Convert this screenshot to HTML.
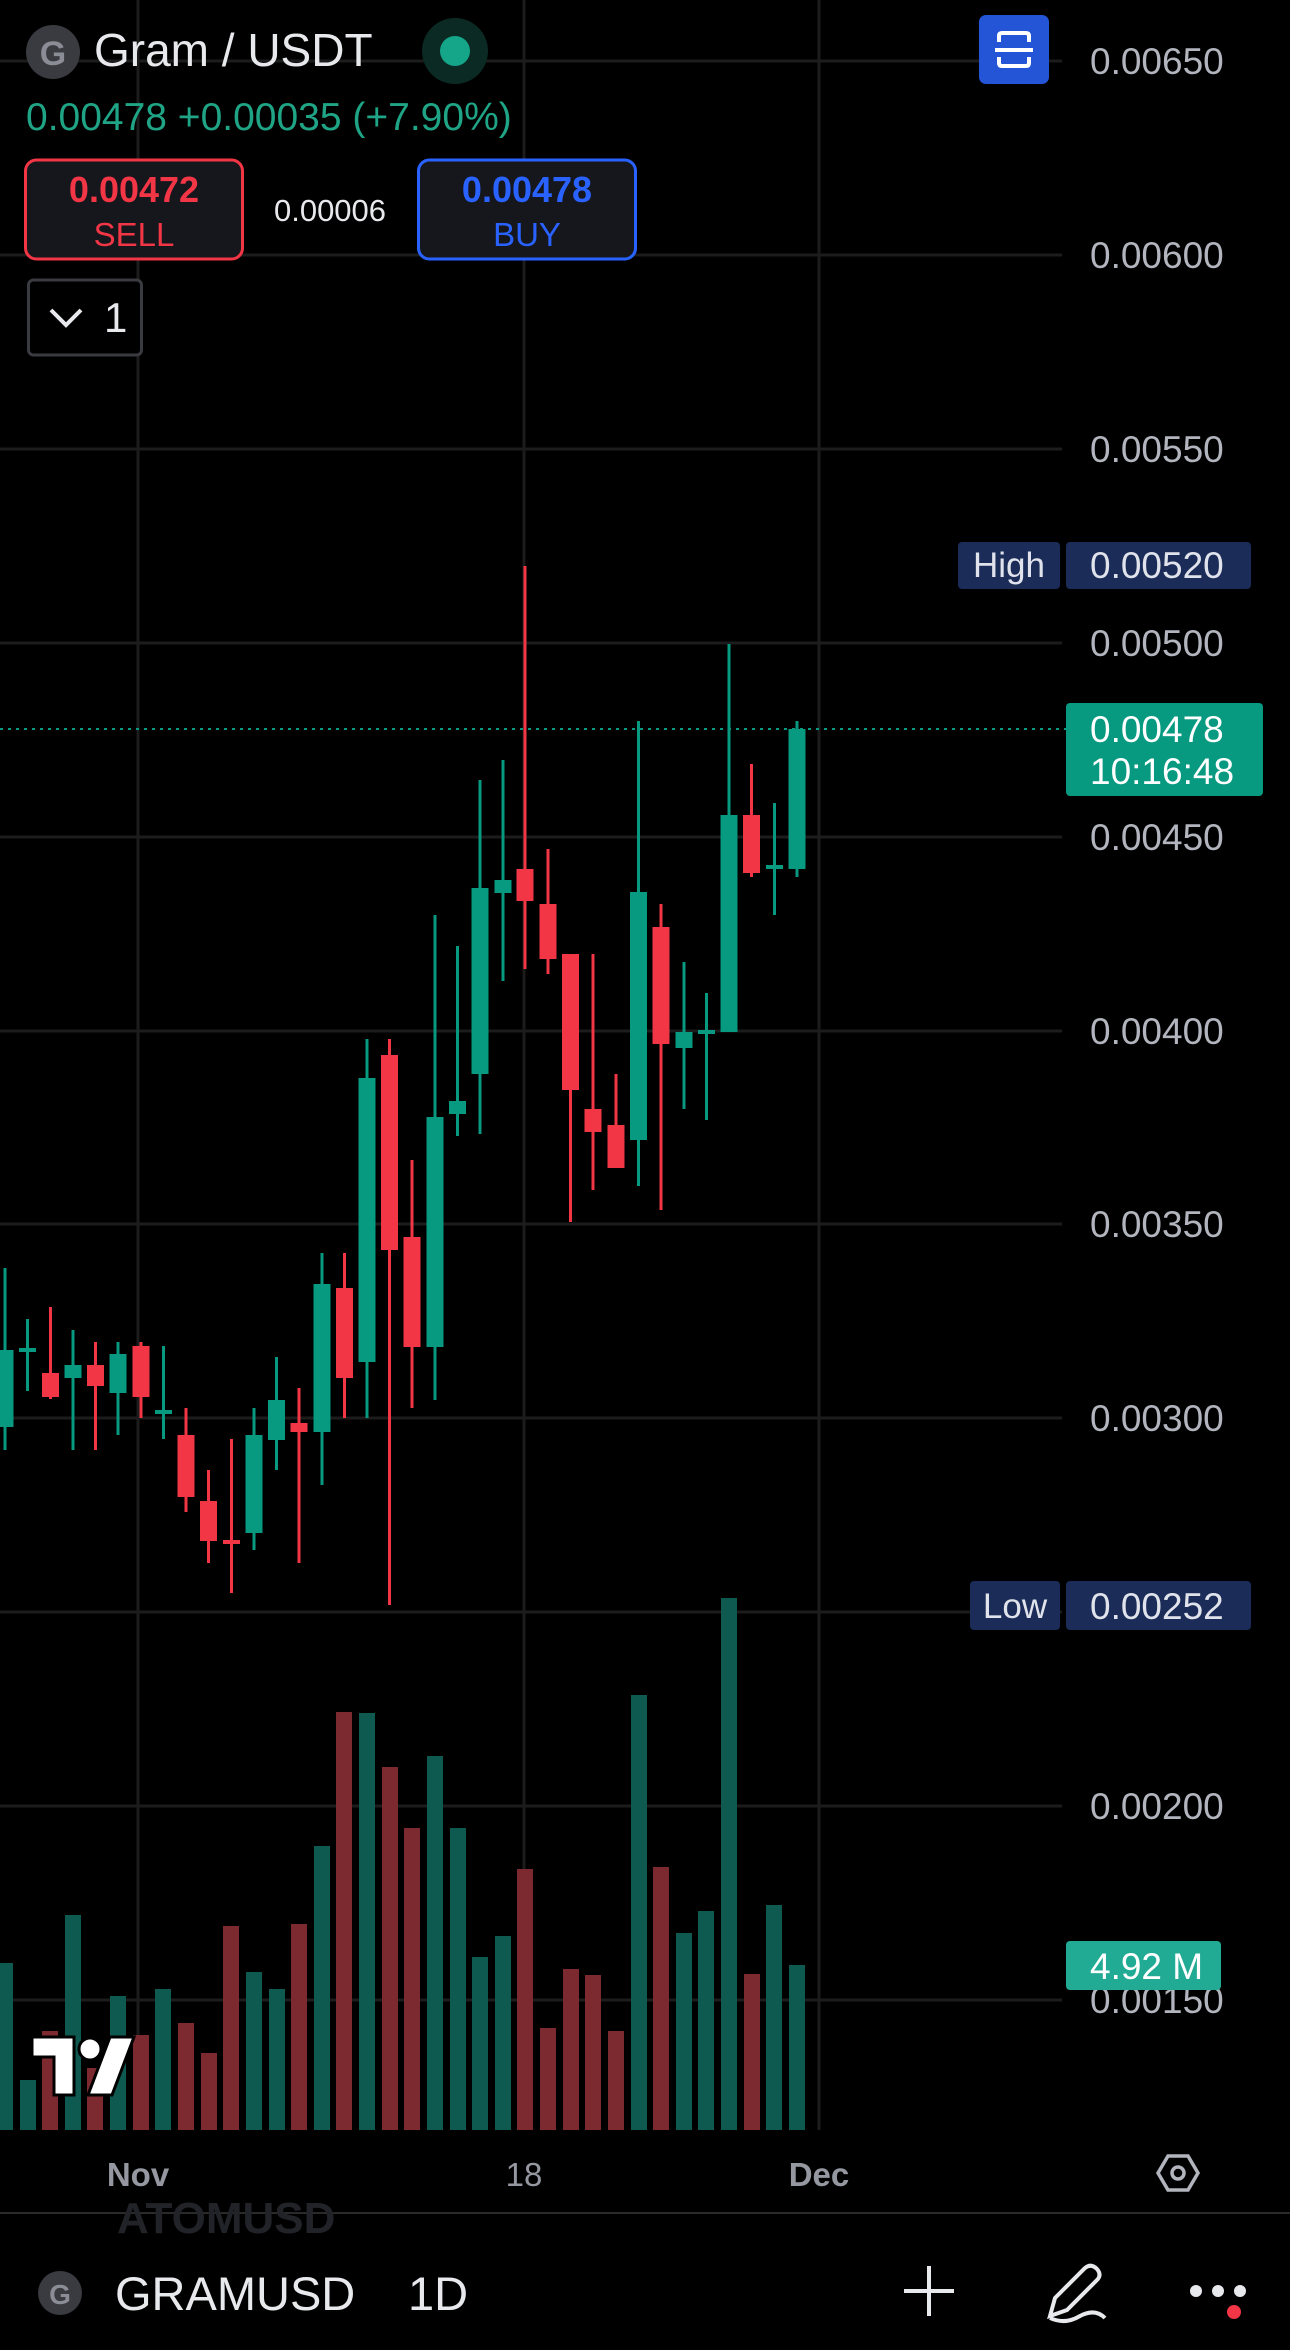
<!DOCTYPE html>
<html><head><meta charset="utf-8"><style>
html,body{margin:0;padding:0;background:#000;}
svg{display:block;}
text{font-family:"Liberation Sans",sans-serif;}
</style></head><body>
<svg width="1290" height="2350" viewBox="0 0 1290 2350" xmlns="http://www.w3.org/2000/svg">
<rect width="1290" height="2350" fill="#000"/>
<!-- grid -->
<g stroke="#1c1c1c" stroke-width="3">
<line x1="0" y1="61" x2="1062" y2="61"/><line x1="0" y1="255" x2="1062" y2="255"/><line x1="0" y1="449" x2="1062" y2="449"/><line x1="0" y1="643" x2="1062" y2="643"/><line x1="0" y1="837" x2="1062" y2="837"/><line x1="0" y1="1031" x2="1062" y2="1031"/><line x1="0" y1="1224" x2="1062" y2="1224"/><line x1="0" y1="1418" x2="1062" y2="1418"/><line x1="0" y1="1612" x2="1062" y2="1612"/><line x1="0" y1="1806" x2="1062" y2="1806"/><line x1="0" y1="2000" x2="1062" y2="2000"/>
<line x1="138" y1="0" x2="138" y2="2130"/><line x1="524" y1="0" x2="524" y2="2130"/><line x1="819" y1="0" x2="819" y2="2130"/>
</g>
<!-- volume -->
<g>
<rect x="-3" y="1963" width="16" height="167" fill="#0e5a50"/>
<rect x="20" y="2080" width="16" height="50" fill="#0e5a50"/>
<rect x="42" y="2031" width="16" height="99" fill="#7c2a2f"/>
<rect x="65" y="1915" width="16" height="215" fill="#0e5a50"/>
<rect x="87" y="2068" width="16" height="62" fill="#7c2a2f"/>
<rect x="110" y="1996" width="16" height="134" fill="#0e5a50"/>
<rect x="133" y="2035" width="16" height="95" fill="#7c2a2f"/>
<rect x="155" y="1989" width="16" height="141" fill="#0e5a50"/>
<rect x="178" y="2023" width="16" height="107" fill="#7c2a2f"/>
<rect x="201" y="2053" width="16" height="77" fill="#7c2a2f"/>
<rect x="223" y="1926" width="16" height="204" fill="#7c2a2f"/>
<rect x="246" y="1972" width="16" height="158" fill="#0e5a50"/>
<rect x="269" y="1989" width="16" height="141" fill="#0e5a50"/>
<rect x="291" y="1924" width="16" height="206" fill="#7c2a2f"/>
<rect x="314" y="1846" width="16" height="284" fill="#0e5a50"/>
<rect x="336" y="1712" width="16" height="418" fill="#7c2a2f"/>
<rect x="359" y="1713" width="16" height="417" fill="#0e5a50"/>
<rect x="382" y="1767" width="16" height="363" fill="#7c2a2f"/>
<rect x="404" y="1828" width="16" height="302" fill="#7c2a2f"/>
<rect x="427" y="1756" width="16" height="374" fill="#0e5a50"/>
<rect x="450" y="1828" width="16" height="302" fill="#0e5a50"/>
<rect x="472" y="1957" width="16" height="173" fill="#0e5a50"/>
<rect x="495" y="1936" width="16" height="194" fill="#0e5a50"/>
<rect x="517" y="1869" width="16" height="261" fill="#7c2a2f"/>
<rect x="540" y="2028" width="16" height="102" fill="#7c2a2f"/>
<rect x="563" y="1969" width="16" height="161" fill="#7c2a2f"/>
<rect x="585" y="1975" width="16" height="155" fill="#7c2a2f"/>
<rect x="608" y="2031" width="16" height="99" fill="#7c2a2f"/>
<rect x="631" y="1695" width="16" height="435" fill="#0e5a50"/>
<rect x="653" y="1867" width="16" height="263" fill="#7c2a2f"/>
<rect x="676" y="1933" width="16" height="197" fill="#0e5a50"/>
<rect x="698" y="1911" width="16" height="219" fill="#0e5a50"/>
<rect x="721" y="1598" width="16" height="532" fill="#0e5a50"/>
<rect x="744" y="1974" width="16" height="156" fill="#7c2a2f"/>
<rect x="766" y="1905" width="16" height="225" fill="#0e5a50"/>
<rect x="789" y="1965" width="16" height="165" fill="#0e5a50"/>
</g>
<!-- current price line -->
<line x1="0" y1="729" x2="1066" y2="729" stroke="#089981" stroke-width="2" stroke-dasharray="3,5"/>
<!-- candles -->
<g fill="#089981">
<rect x="3.5" y="1268" width="3" height="182"/><rect x="-3.5" y="1350" width="17" height="77"/>
<rect x="26" y="1319" width="3" height="72"/><rect x="19" y="1348" width="17" height="4"/>
<rect x="71.5" y="1330" width="3" height="120"/><rect x="64.5" y="1365" width="17" height="13"/>
<rect x="116.5" y="1342" width="3" height="93"/><rect x="109.5" y="1354" width="17" height="39"/>
<rect x="162" y="1346" width="3" height="93"/><rect x="155" y="1410" width="17" height="4"/>
<rect x="252.5" y="1408" width="3" height="142"/><rect x="245.5" y="1435" width="17" height="98"/>
<rect x="275" y="1357" width="3" height="113"/><rect x="268" y="1400" width="17" height="40"/>
<rect x="320.5" y="1253" width="3" height="232"/><rect x="313.5" y="1284" width="17" height="148"/>
<rect x="365.5" y="1039" width="3" height="379"/><rect x="358.5" y="1078" width="17" height="284"/>
<rect x="433.5" y="915" width="3" height="485"/><rect x="426.5" y="1117" width="17" height="230"/>
<rect x="456" y="946" width="3" height="190"/><rect x="449" y="1101" width="17" height="13"/>
<rect x="478.5" y="780" width="3" height="354"/><rect x="471.5" y="888" width="17" height="186"/>
<rect x="501.5" y="760" width="3" height="221"/><rect x="494.5" y="880" width="17" height="13"/>
<rect x="637" y="721" width="3" height="465"/><rect x="630" y="892" width="17" height="248"/>
<rect x="682.5" y="962" width="3" height="147"/><rect x="675.5" y="1032" width="17" height="16"/>
<rect x="705" y="993" width="3" height="127"/><rect x="698" y="1030" width="17" height="4"/>
<rect x="727.5" y="644" width="3" height="388"/><rect x="720.5" y="815" width="17" height="217"/>
<rect x="773" y="803" width="3" height="112"/><rect x="766" y="865" width="17" height="4"/>
<rect x="795.5" y="721" width="3" height="156"/><rect x="788.5" y="729" width="17" height="140"/>
</g>
<g fill="#f23645">
<rect x="49" y="1307" width="3" height="92"/><rect x="42" y="1373" width="17" height="24"/>
<rect x="94" y="1342" width="3" height="108"/><rect x="87" y="1365" width="17" height="21"/>
<rect x="139.5" y="1342" width="3" height="76"/><rect x="132.5" y="1346" width="17" height="51"/>
<rect x="184.5" y="1408" width="3" height="104"/><rect x="177.5" y="1435" width="17" height="62"/>
<rect x="207" y="1470" width="3" height="93"/><rect x="200" y="1501" width="17" height="40"/>
<rect x="230" y="1439" width="3" height="154"/><rect x="223" y="1540" width="17" height="4"/>
<rect x="297.5" y="1388" width="3" height="175"/><rect x="290.5" y="1423" width="17" height="9"/>
<rect x="343" y="1253" width="3" height="165"/><rect x="336" y="1288" width="17" height="90"/>
<rect x="388" y="1039" width="3" height="566"/><rect x="381" y="1055" width="17" height="195"/>
<rect x="410.5" y="1160" width="3" height="248"/><rect x="403.5" y="1237" width="17" height="110"/>
<rect x="523.5" y="566" width="3" height="403"/><rect x="516.5" y="869" width="17" height="32"/>
<rect x="546.5" y="849" width="3" height="125"/><rect x="539.5" y="904" width="17" height="55"/>
<rect x="569" y="954" width="3" height="268"/><rect x="562" y="954" width="17" height="136"/>
<rect x="591.5" y="954" width="3" height="236"/><rect x="584.5" y="1109" width="17" height="23"/>
<rect x="614.5" y="1074" width="3" height="94"/><rect x="607.5" y="1125" width="17" height="43"/>
<rect x="659.5" y="904" width="3" height="306"/><rect x="652.5" y="927" width="17" height="117"/>
<rect x="750" y="764" width="3" height="113"/><rect x="743" y="815" width="17" height="58"/>
</g>
<!-- price axis labels -->
<g fill="#b2b5be" font-size="37">
<text x="1090" y="74">0.00650</text>
<text x="1090" y="268">0.00600</text>
<text x="1090" y="462">0.00550</text>
<text x="1090" y="656">0.00500</text>
<text x="1090" y="850">0.00450</text>
<text x="1090" y="1044">0.00400</text>
<text x="1090" y="1237">0.00350</text>
<text x="1090" y="1431">0.00300</text>
<text x="1090" y="1819">0.00200</text>
<text x="1090" y="2013">0.00150</text>
</g>
<!-- High -->
<rect x="958" y="542" width="102" height="47" rx="4" fill="#1a2c57"/>
<text x="1009" y="577" fill="#e0e3eb" font-size="35" text-anchor="middle">High</text>
<rect x="1066" y="542" width="185" height="47" rx="4" fill="#1a2c57"/>
<text x="1090" y="578" fill="#e0e3eb" font-size="37">0.00520</text>
<!-- Low -->
<rect x="970" y="1581" width="90" height="49" rx="4" fill="#1a2c57"/>
<text x="1015" y="1618" fill="#e0e3eb" font-size="35" text-anchor="middle">Low</text>
<rect x="1066" y="1581" width="185" height="49" rx="4" fill="#1a2c57"/>
<text x="1090" y="1619" fill="#e0e3eb" font-size="37">0.00252</text>
<!-- current -->
<rect x="1066" y="703" width="197" height="93" rx="4" fill="#089981"/>
<text x="1090" y="742" fill="#fff" font-size="37">0.00478</text>
<text x="1090" y="784" fill="#fff" font-size="37">10:16:48</text>
<!-- volume label -->
<rect x="1066" y="1941" width="155" height="49" rx="4" fill="#22ab94"/>
<text x="1090" y="1979" fill="#fff" font-size="37">4.92 M</text>
<!-- TV logo -->
<g transform="translate(32,2037)">
<path d="M0 0 H42 V58 H22 V20 H0 Z" fill="#fff" stroke="#000" stroke-width="3"/>
<circle cx="58" cy="12" r="11" fill="#fff" stroke="#000" stroke-width="3"/>
<path d="M78 0 H102 L80 58 H56 Z" fill="#fff" stroke="#000" stroke-width="3"/>
</g>
<!-- header -->
<circle cx="53" cy="52" r="27" fill="#3a3b40"/>
<text x="53" y="65" fill="#8a8d96" font-size="34" font-weight="bold" text-anchor="middle">G</text>
<text x="94" y="66" fill="#e8e9ed" font-size="46">Gram / USDT</text>
<circle cx="455" cy="51" r="33" fill="#0c2a24"/>
<circle cx="455" cy="51" r="15" fill="#15a68a"/>
<rect x="979" y="15" width="70" height="69" rx="7" fill="#2455d6"/>
<g stroke="#fff" stroke-width="4" fill="none">
<path d="M999 42 V36 Q999 33 1002 33 H1026 Q1029 33 1029 36 V42"/>
<path d="M999 57 V63 Q999 66 1002 66 H1026 Q1029 66 1029 63 V57"/>
<line x1="995" y1="50" x2="1033" y2="50"/>
</g>
<text x="26" y="130" fill="#1fa586" font-size="39">0.00478 +0.00035 (+7.90%)</text>
<rect x="25.5" y="160" width="217" height="99" rx="11" fill="#15171d" stroke="#f23645" stroke-width="3"/>
<text x="134" y="202" fill="#f23645" font-size="36" font-weight="bold" text-anchor="middle">0.00472</text>
<text x="134" y="246" fill="#f23645" font-size="33" text-anchor="middle">SELL</text>
<text x="330" y="221" fill="#e8e9ed" font-size="31" text-anchor="middle">0.00006</text>
<rect x="418.5" y="160" width="217" height="99" rx="11" fill="#15171d" stroke="#2962ff" stroke-width="3"/>
<text x="527" y="202" fill="#2962ff" font-size="36" font-weight="bold" text-anchor="middle">0.00478</text>
<text x="527" y="246" fill="#2962ff" font-size="33" text-anchor="middle">BUY</text>
<rect x="28.5" y="280" width="113" height="75" rx="5" fill="#000" stroke="#3a3b40" stroke-width="3"/>
<path d="M51 310 L66 325 L81 310" stroke="#e8e9ed" stroke-width="4" fill="none"/>
<text x="104" y="332" fill="#e8e9ed" font-size="42">1</text>
<!-- time axis -->
<text x="138" y="2186" fill="#9598a1" font-size="33" font-weight="bold" text-anchor="middle">Nov</text>
<text x="524" y="2186" fill="#9598a1" font-size="33" text-anchor="middle">18</text>
<text x="819" y="2186" fill="#9598a1" font-size="33" font-weight="bold" text-anchor="middle">Dec</text>
<path d="M1168 2156 L1188 2156 L1198 2173 L1188 2190 L1168 2190 L1158 2173 Z" stroke="#b2b5be" stroke-width="3.5" fill="none"/>
<circle cx="1178" cy="2173" r="6" stroke="#b2b5be" stroke-width="3.5" fill="none"/>
<line x1="0" y1="2213" x2="1290" y2="2213" stroke="#2a2a2a" stroke-width="2"/>
<text x="117" y="2233" fill="#222328" font-size="44" font-weight="bold">ATOMUSD</text>
<rect x="350" y="2214" width="60" height="40" fill="#000"/>
<!-- bottom bar -->
<circle cx="60" cy="2293" r="22" fill="#3a3b40"/>
<text x="60" y="2304" fill="#8a8d96" font-size="28" font-weight="bold" text-anchor="middle">G</text>
<text x="115" y="2310" fill="#e8e9ed" font-size="47">GRAMUSD</text>
<rect x="355" y="2260" width="50" height="70" fill="#000"/>
<text x="408" y="2310" fill="#e8e9ed" font-size="47">1D</text>
<g stroke="#e8e9ed" stroke-width="4" fill="none">
<line x1="904" y1="2291" x2="954" y2="2291"/><line x1="929" y1="2266" x2="929" y2="2316"/>
<path d="M1050 2316 L1055 2298 L1085 2268 Q1091 2263 1097 2269 Q1102 2275 1097 2280 L1067 2310 Z"/>
<path d="M1050 2318 Q1065 2325 1080 2316 Q1095 2308 1105 2318"/>
</g>
<circle cx="1196" cy="2291" r="6" fill="#e8e9ed"/><circle cx="1218" cy="2291" r="6" fill="#e8e9ed"/><circle cx="1240" cy="2291" r="6" fill="#e8e9ed"/>
<circle cx="1234" cy="2312" r="7" fill="#f23645"/>
</svg>
</body></html>
